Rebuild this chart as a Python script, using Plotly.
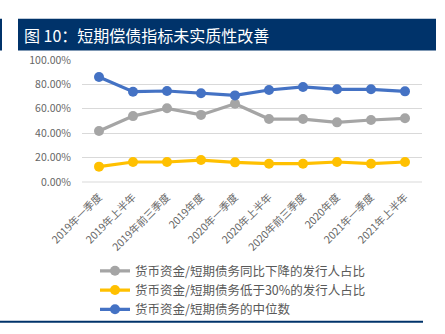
import plotly.graph_objects as go

categories = ["2019年一季度", "2019年上半年", "2019年前三季度", "2019年度",
              "2020年一季度", "2020年上半年", "2020年前三季度", "2020年度",
              "2021年一季度", "2021年上半年"]
gray_vals = [0.418, 0.540, 0.604, 0.550, 0.642, 0.516, 0.516, 0.489, 0.508, 0.522]
yellow_vals = [0.126, 0.164, 0.164, 0.180, 0.161, 0.150, 0.150, 0.164, 0.150, 0.164]
blue_vals = [0.860, 0.740, 0.746, 0.727, 0.710, 0.754, 0.779, 0.760, 0.760, 0.743]
series_names = ["货币资金/短期债务同比下降的发行人占比",
                "货币资金/短期债务低于30%的发行人占比",
                "货币资金/短期债务的中位数"]
y_ticks = [0, 0.2, 0.4, 0.6, 0.8, 1.0]
y_tick_text = ["0.00%", "20.00%", "40.00%", "60.00%", "80.00%", "100.00%"]
title_text = "图 10：短期偿债指标未实质性改善"

W, H = 445, 334
L, R, T, B = 82, 422, 59.5, 182.3
pw, ph = R - L, B - T

def px(x):
    return (x - L) / pw

def py(y):
    return (B - y) / ph

fig = go.Figure()
for name, vals, color in [(series_names[0], gray_vals, "#A5A5A5"),
                          (series_names[1], yellow_vals, "#FFC000"),
                          (series_names[2], blue_vals, "#4472C4")]:
    fig.add_trace(go.Scatter(x=categories, y=vals, name=name, mode="lines+markers",
                             line=dict(color=color, width=3.2),
                             marker=dict(color=color, size=10)))

font_family = "Noto Sans CJK SC, Noto Sans, sans-serif"
fig.update_layout(
    width=W, height=H,
    margin=dict(l=L, r=W - R, t=T, b=H - B, autoexpand=False),
    paper_bgcolor="white", plot_bgcolor="white",
    font=dict(family=font_family, color="#595959", size=11),
    showlegend=True,
    legend=dict(x=px(95), y=py(257), xanchor="left", yanchor="top",
                bgcolor="rgba(0,0,0,0)", font=dict(size=12.5, color="#595959"),
                itemwidth=30, tracegroupgap=0),
    xaxis=dict(type="category", range=[-0.5, 9.5], showgrid=False, showline=False,
               ticks="", tickangle=-45, ticklabelstandoff=6,
               tickfont=dict(size=10.5, color="#666666")),
    yaxis=dict(range=[0, 1.0], tickvals=y_ticks, ticktext=y_tick_text,
               showgrid=True, gridcolor="#D9D9D9", gridwidth=1, zeroline=False,
               showline=False, ticks="", ticklen=0, ticklabelstandoff=10,
               tickfont=dict(size=10.5, color="#666666")),
    shapes=[
        dict(type="rect", xref="paper", yref="paper", x0=px(18), x1=px(436),
             y0=py(50), y1=py(18), fillcolor="#00336A", line=dict(width=0), layer="below"),
        dict(type="rect", xref="paper", yref="paper", x0=px(-1), x1=px(2),
             y0=py(50), y1=py(18), fillcolor="#00336A", line=dict(width=0), layer="below"),
        dict(type="line", xref="paper", yref="paper", x0=px(0), x1=px(423),
             y0=py(323), y1=py(323), line=dict(color="#00336A", width=2)),
        dict(type="line", xref="paper", yref="paper", x0=0, x1=1,
             y0=0, y1=0, line=dict(color="#D9D9D9", width=1), layer="below"),
    ],
    annotations=[
        dict(text=title_text, xref="paper", yref="paper", x=px(22), y=py(34),
             xanchor="left", yanchor="middle", showarrow=False,
             font=dict(family=font_family, size=16, color="white")),
    ],
)
fig.write_html("out.html")
